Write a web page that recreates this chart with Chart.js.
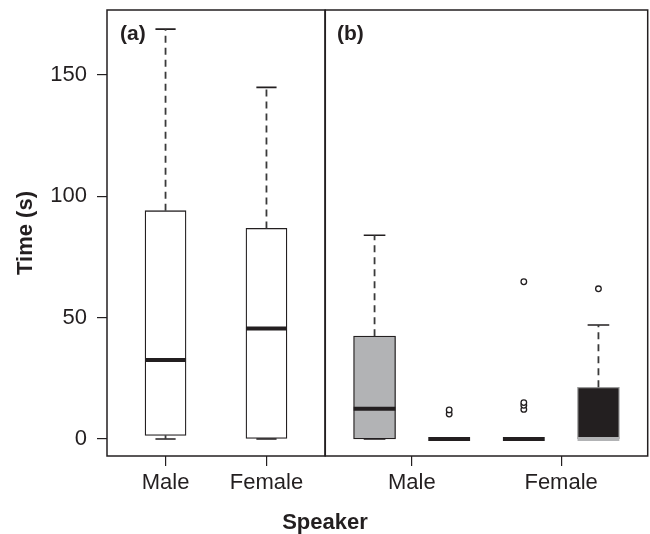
<!DOCTYPE html>
<html>
<head>
<meta charset="utf-8">
<script src="https://cdn.jsdelivr.net/npm/chart.js@4"></script>
<style>
  body { margin: 0; background: #fff; overflow: hidden; }
  #wrap { position: relative; width: 650px; height: 534px; overflow: hidden; font-family: 'Liberation Sans', Arial, sans-serif; color: #231f20; }
  canvas { position: absolute; top: 0; }
  .lbl { position: absolute; font-weight: bold; font-size: 21px; line-height: 24px; }
</style>
</head>
<body>
<div id="wrap">
  <canvas id="left" width="330" height="534" style="left:0"></canvas>
  <canvas id="right" width="333" height="534" style="left:320px"></canvas>
  <div class="lbl" style="left:120px; top:21px">(a)</div>
  <div class="lbl" style="left:337px; top:21px">(b)</div>
  <div class="lbl" style="left:0; width:650px; top:510px; text-align:center; font-size:22px">Speaker</div>
</div>
<script>
// y axis
const yTicks = [0, 50, 100, 150];
const yMin = -7;
const yMax = 176.8;

// panel (a)
const aPositions = [1, 2];
const aTickLabels = ['Male', 'Female'];
const aMin = [0, 0];
const aQ1 = [1.5, 0];
const aMedian = [32.6, 45.5];
const aQ3 = [94.1, 86.8];
const aMax = [168.9, 144.9];
const aOutliers = [[], []];

// panel (b)
const bPositions = [1, 2, 3, 4];
const bTickPositions = [1.5, 3.5];
const bTickLabels = ['Male', 'Female'];
const bMin = [0, 0, 0, 0];
const bQ1 = [0, 0, 0, 0];
const bMedian = [12.5, 0, 0, 0];
const bQ3 = [42.4, 0, 0, 21.3];
const bMax = [84, 0, 0, 47];
const bOutliers = [[], [10.3, 12], [12.2, 13.9, 15, 64.8], [61.9]];

const ink = '#231f20';
const grey = '#b2b3b5';
const font = { family: "'Liberation Sans', Arial, sans-serif", size: 22 };

function boxDatasets(pos, mins, q1s, meds, q3s, maxs, outs, fills, edges, medColors, boxHalf, capHalf, barPx) {
  const sets = [];
  sets.push({
    type: 'bar',
    data: pos.map((x, i) => ({ x: x, y: [q1s[i], q3s[i]] })),
    backgroundColor: fills,
    borderColor: edges,
    borderWidth: 1.3,
    borderSkipped: false,
    barThickness: barPx,
    order: 5
  });
  // whiskers (dashed) with gaps between boxes
  const wh = [];
  pos.forEach((x, i) => {
    if (maxs[i] > q3s[i]) wh.push({ x: x, y: q3s[i] }, { x: x, y: maxs[i] }, { x: x, y: null });
    if (mins[i] < q1s[i]) wh.push({ x: x, y: q1s[i] }, { x: x, y: mins[i] }, { x: x, y: null });
  });
  sets.push({ type: 'line', data: wh, borderColor: '#3a3a3a', borderWidth: 1.8, borderDash: [7, 5], pointRadius: 0, spanGaps: false, order: 4 });
  // caps
  const caps = [];
  pos.forEach((x, i) => {
    caps.push({ x: x - capHalf, y: maxs[i] }, { x: x + capHalf, y: maxs[i] }, { x: x, y: null });
    caps.push({ x: x - capHalf, y: mins[i] }, { x: x + capHalf, y: mins[i] }, { x: x, y: null });
  });
  sets.push({ type: 'line', data: caps, borderColor: ink, borderWidth: 1.6, pointRadius: 0, spanGaps: false, order: 4 });
  // medians
  pos.forEach((x, i) => {
    sets.push({ type: 'line', data: [{ x: x - boxHalf, y: meds[i] }, { x: x + boxHalf, y: meds[i] }], borderColor: medColors[i], borderWidth: 4, borderCapStyle: 'butt', pointRadius: 0, order: 2 });
  });
  // outliers
  const pts = [];
  pos.forEach((x, i) => outs[i].forEach(v => pts.push({ x: x, y: v })));
  sets.push({ type: 'scatter', data: pts, pointRadius: 2.8, pointBorderWidth: 1.3, borderColor: ink, backgroundColor: '#fff', order: 1 });
  return sets;
}

const framePlugin = {
  id: 'frame',
  afterDraw(chart) {
    const a = chart.chartArea, ctx = chart.ctx;
    ctx.save();
    ctx.strokeStyle = ink;
    ctx.lineWidth = 1.5;
    ctx.strokeRect(a.left, a.top, a.right - a.left, a.bottom - a.top);
    ctx.restore();
  }
};

function baseOptions(xMin, xMax, xTickVals, xTickLabels, showY, padding) {
  return {
    responsive: false,
    animation: false,
    layout: { padding: padding },
    plugins: { legend: { display: false }, tooltip: { enabled: false } },
    scales: {
      x: {
        type: 'linear', min: xMin, max: xMax, offset: false,
        afterBuildTicks: ax => { ax.ticks = xTickVals.map(v => ({ value: v })); },
        afterFit: ax => { ax.height = 78; ax.paddingLeft = 0; ax.paddingRight = 0; },
        ticks: { font: font, color: ink, padding: 4, maxRotation: 0, autoSkip: false,
          callback: v => xTickLabels[xTickVals.indexOf(v)] },
        grid: { display: true, offset: false, drawOnChartArea: false, drawTicks: true, tickLength: 10, color: ink, lineWidth: 1.2 },
        border: { display: false }
      },
      y: {
        display: showY,
        min: yMin, max: yMax,
        afterBuildTicks: ax => { ax.ticks = yTicks.map(v => ({ value: v })); },
        afterFit: ax => {
          if (showY) ax.width = 107;
          ax.paddingTop = 0; ax.paddingBottom = 0;
        },
        ticks: { font: font, color: ink, padding: 10 },
        grid: { display: true, drawOnChartArea: false, drawTicks: true, tickLength: 10, color: ink, lineWidth: 1.2 },
        border: { display: false },
        title: { display: showY, text: 'Time (s)', color: ink, font: { family: font.family, size: 22, weight: 'bold' }, padding: { top: 13, bottom: 0 } }
      }
    }
  };
}

new Chart(document.getElementById('left'), {
  data: {
    datasets: boxDatasets(aPositions, aMin, aQ1, aMedian, aQ3, aMax, aOutliers,
      ['#fff', '#fff'], [ink, ink], [ink, ink], 0.203, 0.1, 41)
  },
  options: baseOptions(0.42, 2.58, aPositions, aTickLabels, true, { top: 10, left: 0, right: 5, bottom: 0 }),
  plugins: [framePlugin]
});

new Chart(document.getElementById('right'), {
  data: {
    datasets: boxDatasets(bPositions, bMin, bQ1, bMedian, bQ3, bMax, bOutliers,
      [grey, '#fff', '#fff', ink], [ink, ink, ink, '#9a9a9a'], [ink, ink, ink, grey], 0.28, 0.145, 42)
  },
  options: baseOptions(0.34, 4.66, bTickPositions, bTickLabels, false, { top: 10, left: 5, right: 0, bottom: 0 }),
  plugins: [framePlugin]
});
</script>
</body>
</html>
